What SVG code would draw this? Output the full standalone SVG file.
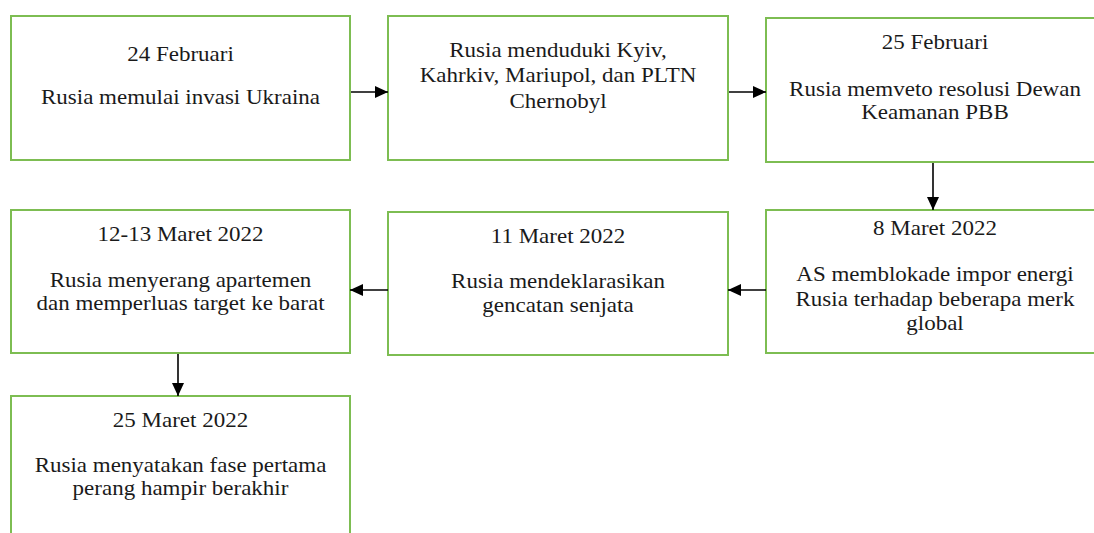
<svg xmlns="http://www.w3.org/2000/svg" width="1094" height="533" viewBox="0 0 1094 533">
<style>
.box{fill:#fff;stroke:#7dbd52;stroke-width:2}
.t{font-family:'Liberation Serif','Times New Roman',serif;font-size:21px;fill:#1a1a1a;text-anchor:middle}
.conn{stroke:#000;stroke-width:1.6;fill:none}
</style>
<defs>
<marker id="ah" viewBox="0 0 13 12" refX="13" refY="6" markerWidth="13" markerHeight="12" markerUnits="userSpaceOnUse" orient="auto">
<path d="M0,0 L13,6 L0,12 Z" fill="#000"/>
</marker>
</defs>
<rect width="1094" height="533" fill="#fff"/>
<g id="n1"><rect class="box" x="11" y="16" width="339" height="144"/>
<g class="t" transform="translate(180.5,0) scale(1.095,1)">
<text x="0" y="61">24 Februari</text>
<text x="0" y="104">Rusia memulai invasi Ukraina</text></g></g>
<g id="n2"><rect class="box" x="388" y="16" width="340" height="144"/>
<g class="t" transform="translate(558,0) scale(1.095,1)">
<text x="0" y="57">Rusia menduduki Kyiv,</text>
<text x="0" y="82">Kahrkiv, Mariupol, dan PLTN</text>
<text x="0" y="108">Chernobyl</text></g></g>
<g id="n3"><rect class="box" x="766" y="18" width="340" height="144"/>
<g class="t" transform="translate(935,0) scale(1.095,1)">
<text x="0" y="49">25 Februari</text>
<text x="0" y="96">Rusia memveto resolusi Dewan</text>
<text x="0" y="119">Keamanan PBB</text></g></g>
<g id="n4"><rect class="box" x="766" y="210" width="340" height="143"/>
<g class="t" transform="translate(935,0) scale(1.095,1)">
<text x="0" y="235">8 Maret 2022</text>
<text x="0" y="281">AS memblokade impor energi</text>
<text x="0" y="306">Rusia terhadap beberapa merk</text>
<text x="0" y="330">global</text></g></g>
<g id="n5"><rect class="box" x="388" y="212" width="340" height="143"/>
<g class="t" transform="translate(558,0) scale(1.095,1)">
<text x="0" y="243">11 Maret 2022</text>
<text x="0" y="288">Rusia mendeklarasikan</text>
<text x="0" y="312">gencatan senjata</text></g></g>
<g id="n6"><rect class="box" x="11" y="210" width="339" height="143"/>
<g class="t" transform="translate(180.5,0) scale(1.095,1)">
<text x="0" y="241">12-13 Maret 2022</text>
<text x="0" y="287">Rusia menyerang apartemen</text>
<text x="0" y="310">dan memperluas target ke barat</text></g></g>
<g id="n7"><rect class="box" x="11" y="396" width="339" height="150"/>
<g class="t" transform="translate(180.5,0) scale(1.095,1)">
<text x="0" y="427">25 Maret 2022</text>
<text x="0" y="472">Rusia menyatakan fase pertama</text>
<text x="0" y="495">perang hampir berakhir</text></g></g>
<g id="connectors">
<line class="conn" x1="351" y1="92" x2="388" y2="92" marker-end="url(#ah)"/>
<line class="conn" x1="729" y1="92" x2="766" y2="92" marker-end="url(#ah)"/>
<line class="conn" x1="933" y1="163" x2="933" y2="210" marker-end="url(#ah)"/>
<line class="conn" x1="766" y1="290" x2="728" y2="290" marker-end="url(#ah)"/>
<line class="conn" x1="388" y1="290" x2="350" y2="290" marker-end="url(#ah)"/>
<line class="conn" x1="178" y1="354" x2="178" y2="396" marker-end="url(#ah)"/>
</g>
</svg>
